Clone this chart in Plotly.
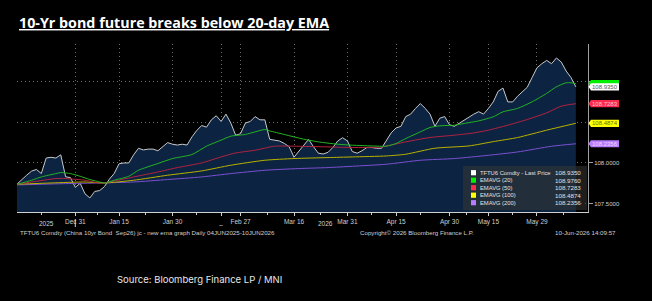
import plotly.graph_objects as go

# ---------------- data (trading-day index 0 = 15 Dec 2025, 115 = 10 Jun 2026) -------------
price = [107.74, 107.80, 107.85, 107.90, 107.92, 107.87, 108.06, 108.07, 108.06, 108.10,
         107.83, 107.82, 107.70, 107.75, 107.62, 107.57, 107.65, 107.66, 107.71, 107.80,
         107.87, 107.99, 108.00, 108.00, 108.10, 108.18, 108.16, 108.17, 108.17, 108.15,
         108.20, 108.25, 108.23, 108.22, 108.23, 108.22, 108.32, 108.40, 108.46, 108.44,
         108.53, 108.58, 108.51, 108.60, 108.49, 108.34, 108.36, 108.49, 108.51, 108.57,
         108.53, 108.53, 108.29, 108.28, 108.27, 108.24, 108.20, 108.07, 108.14, 108.22,
         108.29, 108.20, 108.12, 108.11, 108.13, 108.19, 108.27, 108.31, 108.27, 108.14,
         108.12, 108.15, 108.19, 108.19, 108.18, 108.18, 108.28, 108.37, 108.43, 108.45,
         108.57, 108.60, 108.67, 108.73, 108.67, 108.60, 108.45, 108.55, 108.57, 108.47,
         108.45, 108.49, 108.53, 108.56, 108.60, 108.63, 108.60, 108.67, 108.75, 108.88,
         108.92, 108.75, 108.75, 108.82, 108.87, 108.93, 109.05, 109.17, 109.22, 109.26,
         109.22, 109.29, 109.24, 109.13, 109.05, 108.935]
price_idx = list(range(len(price)))

ema20_idx = [0, 3, 5, 8, 9, 11, 13, 15, 17, 18, 20, 23, 25, 29, 32, 36, 39, 42, 44, 47,
             49, 51, 52, 55, 59, 62, 66, 69, 73, 76, 78, 80, 83, 85, 87, 90, 92, 95, 98, 100,
             103, 106, 109, 111, 113, 114, 115]
ema20 = [107.738, 107.787, 107.828, 107.869, 107.882, 107.869, 107.836, 107.796, 107.766, 107.754,
         107.787, 107.836, 107.910, 107.993, 108.054, 108.103, 108.206, 108.280, 108.329, 108.350,
         108.382, 108.411, 108.394, 108.350, 108.292, 108.259, 108.230, 108.218, 108.209, 108.206,
         108.239, 108.300, 108.382, 108.436, 108.456, 108.464, 108.485, 108.517, 108.567, 108.628,
         108.670, 108.751, 108.855, 108.936, 108.985, 108.985, 108.976]

ema50_idx = [0, 3, 8, 10, 14, 17, 19, 24, 29, 33, 38, 42, 45, 49, 53, 57, 64, 69, 75, 80,
             85, 90, 94, 97, 101, 105, 109, 112, 115]
ema50 = [107.738, 107.766, 107.808, 107.808, 107.787, 107.754, 107.766, 107.828, 107.889, 107.943,
         108.000, 108.074, 108.123, 108.156, 108.206, 108.206, 108.197, 108.190, 108.197, 108.259,
         108.313, 108.341, 108.369, 108.403, 108.464, 108.534, 108.616, 108.698, 108.7283]

ema100_idx = [0, 7, 14, 18, 24, 31, 38, 44, 51, 57, 64, 69, 76, 80, 86, 93, 98, 103, 109, 115]
ema100 = [107.738, 107.754, 107.766, 107.754, 107.787, 107.849, 107.902, 107.972, 108.033, 108.054,
          108.066, 108.074, 108.086, 108.107, 108.181, 108.209, 108.262, 108.312, 108.403, 108.4874]

ema200_idx = [0, 10, 17, 24, 31, 38, 44, 51, 58, 64, 69, 76, 83, 90, 97, 103, 110, 115]
ema200 = [107.730, 107.746, 107.754, 107.766, 107.796, 107.828, 107.869, 107.910, 107.931, 107.943,
          107.959, 107.984, 108.033, 108.054, 108.094, 108.135, 108.205, 108.2356]

tick_idx = [12, 21, 32, 42, 46, 57, 68, 78, 89, 97, 107]
tick_text = ["Dec 31", "Jan 15", "Jan 30", "_", "Feb 27", "Mar 16", "Mar 31",
             "Apr 15", "Apr 30", "May 15", "May 29"]
minor_idx = [5, 16.5, 26.5, 37, 51.5, 62.5, 73, 83, 92.5, 102, 112.5]
year_break_idx = 12
years = ["2025", "2026"]

y_ticks = [107.5, 108.0, 108.5, 109.0]
y_ticktext = ["107.5000", "108.0000", "", ""]

series_names = ["TFTU6 Comdty - Last Price", "EMAVG (20)", "EMAVG (50)", "EMAVG (100)", "EMAVG (200)"]
last_values = [price[-1], ema20[-1], ema50[-1], ema100[-1], ema200[-1]]

# ---------------- styles -------------
W, H = 652, 301
ML, MR, MT, MB = 17, 64, 44, 89
PW = W - ML - MR
PH = H - MT - MB
XR = [0, 117.5]
YR = [107.397, 109.462]

def px_x(px):
    return (px - ML) / PW

def px_y(py):
    return (H - MB - py) / PH

line_cols = ["#c8c8c8", "#22b422", "#b3223f", "#b9b100", "#7b4fd0"]
tag_cols = ["#ffffff", "#00ee00", "#ff2a4d", "#ffff00", "#b77cff"]
tag_txt = ["#555555", None, "#ffc4cc", "#6e6e00", "#ecd8ff"]
txt_grey = "#cfcfcf"
FONT = "Liberation Sans"
GRID = "#6e6e6e"

fig = go.Figure()
fig.add_trace(go.Scatter(x=price_idx, y=price, mode="lines", fill="tozeroy",
                         fillcolor="#0c2442", line=dict(color=line_cols[0], width=1),
                         hoverinfo="skip", showlegend=False))
for xs, ys, c in [(ema200_idx, ema200, line_cols[4]), (ema100_idx, ema100, line_cols[3]),
                  (ema50_idx, ema50, line_cols[2]), (ema20_idx, ema20, line_cols[1])]:
    fig.add_trace(go.Scatter(x=xs, y=ys, mode="lines",
                             line=dict(color=c, width=1, shape="spline", smoothing=0.6),
                             hoverinfo="skip", showlegend=False))
# overlay axes carrying the dotted grid above the filled area, and the minor ticks
fig.add_trace(go.Scatter(x=[], y=[], xaxis="x2", yaxis="y2", showlegend=False))
fig.add_trace(go.Scatter(x=[], y=[], xaxis="x3", yaxis="y", showlegend=False))

axfont = dict(family=FONT, size=6.5, color=txt_grey)
fig.update_layout(
    width=W, height=H, margin=dict(l=ML, r=MR, t=MT, b=MB),
    paper_bgcolor="black", plot_bgcolor="black", showlegend=False,
    xaxis=dict(range=XR, tickvals=tick_idx, ticktext=tick_text, showgrid=False, zeroline=False,
               showline=True, linecolor="#d0d0d0", linewidth=1, ticks="outside", ticklen=3,
               tickcolor="#d0d0d0", tickfont=axfont, layer="above traces"),
    yaxis=dict(range=YR, side="right", tickvals=y_ticks, ticktext=y_ticktext, showgrid=False,
               zeroline=False, showline=True, linecolor="#a0a0a0", linewidth=1, ticks="outside",
               ticklen=4, tickcolor="#a0a0a0", tickfont=dict(family=FONT, size=6, color=txt_grey),
               layer="above traces"),
    xaxis2=dict(range=XR, overlaying="x", anchor="y2", tickvals=tick_idx, showticklabels=False,
                showgrid=True, gridcolor=GRID, griddash="1px,3px", gridwidth=1, zeroline=False,
                ticks=""),
    yaxis2=dict(range=YR, overlaying="y", anchor="x2", side="right", tickvals=y_ticks,
                showticklabels=False, showgrid=True, gridcolor=GRID, griddash="1px,3px",
                gridwidth=1, zeroline=False, ticks=""),
    xaxis3=dict(range=XR, overlaying="x", anchor="y", tickvals=minor_idx, showticklabels=False,
                showgrid=False, zeroline=False, ticks="outside", ticklen=2, tickcolor="#d0d0d0"),
)

shapes = []
ann = []

# title
ann.append(dict(x=0, y=px_y(22), xref="paper", yref="paper", xanchor="left", yanchor="middle",
                text="<b><u>10-Yr bond future breaks below 20-day EMA</u></b>", showarrow=False,
                font=dict(family="Open Sans", size=14.3, color="white")))
# year labels and break marker
ann.append(dict(x=year_break_idx / 2, y=px_y(223), xref="x", yref="paper", text=years[0],
                showarrow=False, font=axfont, yanchor="middle"))
ann.append(dict(x=(year_break_idx + price_idx[-1]) / 2, y=px_y(223), xref="x", yref="paper",
                text=years[1], showarrow=False, font=axfont, yanchor="middle"))
shapes.append(dict(type="line", xref="x", yref="paper", x0=year_break_idx, x1=year_break_idx,
                   y0=px_y(219), y1=px_y(227), line=dict(color="#d0d0d0", width=1)))
# footer
foot = dict(family=FONT, size=6.2, color=txt_grey)
ann.append(dict(x=px_x(18), y=px_y(232), xref="paper", yref="paper", xanchor="left",
                text="TFTU6 Comdty (China 10yr Bond  Sep26) jc - new ema graph Daily 04JUN2025-10JUN2026",
                showarrow=False, font=foot, yanchor="middle"))
ann.append(dict(x=px_x(358), y=px_y(232), xref="paper", yref="paper", xanchor="left",
                text="Copyright© 2026 Bloomberg Finance L.P.", showarrow=False, font=foot,
                yanchor="middle"))
ann.append(dict(x=px_x(618), y=px_y(232), xref="paper", yref="paper", xanchor="right",
                text="10-Jun-2026 14:09:57", showarrow=False, font=foot, yanchor="middle"))
ann.append(dict(x=px_x(115), y=px_y(279), xref="paper", yref="paper", xanchor="left",
                text="Source: Bloomberg Finance LP / MNI", showarrow=False,
                font=dict(family="Inter", size=9.5, color="#e6e6e6"), yanchor="middle"))

# value tags on the right axis (green tag sits behind the white one, its text hidden)
hh = 3.6 * (YR[1] - YR[0]) / PH
xt, xb0, xb1 = px_x(588.5), px_x(591), px_x(619)
for k in [1, 0, 2, 3, 4]:
    v = last_values[k]
    shapes.append(dict(type="path", xref="paper", yref="y", layer="above",
                       path=f"M{xt},{v} L{xb0},{v+hh} L{xb1},{v+hh} L{xb1},{v-hh} L{xb0},{v-hh} Z",
                       fillcolor=tag_cols[k], line=dict(width=0)))
    if tag_txt[k]:
        ann.append(dict(x=(xb0 + xb1) / 2, y=v, xref="paper", yref="y", text=f"{v:.4f}",
                        showarrow=False, font=dict(family=FONT, size=6, color=tag_txt[k]),
                        xanchor="center", yanchor="middle"))

# legend box
shapes.append(dict(type="rect", xref="paper", yref="paper", x0=px_x(463), x1=px_x(587),
                   y0=px_y(210), y1=px_y(166), fillcolor="rgba(55,55,55,0.55)",
                   line=dict(width=0), layer="above"))
row_y = [172.7, 180.2, 187.7, 195.2, 202.7]
for k, name in enumerate(series_names):
    yc = row_y[k]
    shapes.append(dict(type="rect", xref="paper", yref="paper", x0=px_x(471), x1=px_x(476),
                       y0=px_y(yc + 2.6), y1=px_y(yc - 2.6), fillcolor=tag_cols[k],
                       line=dict(width=0), layer="above"))
    ann.append(dict(x=px_x(478), y=px_y(yc), xref="paper", yref="paper", xanchor="left",
                    yanchor="middle", text=name, showarrow=False,
                    font=dict(family=FONT, size=5.8, color="#e0e0e0")))
    ann.append(dict(x=px_x(583), y=px_y(yc), xref="paper", yref="paper", xanchor="right",
                    yanchor="middle", text=f"{last_values[k]:.4f}", showarrow=False,
                    font=dict(family=FONT, size=6.2, color="#e0e0e0")))

fig.update_layout(shapes=shapes, annotations=ann)
fig.write_html("out.html")
